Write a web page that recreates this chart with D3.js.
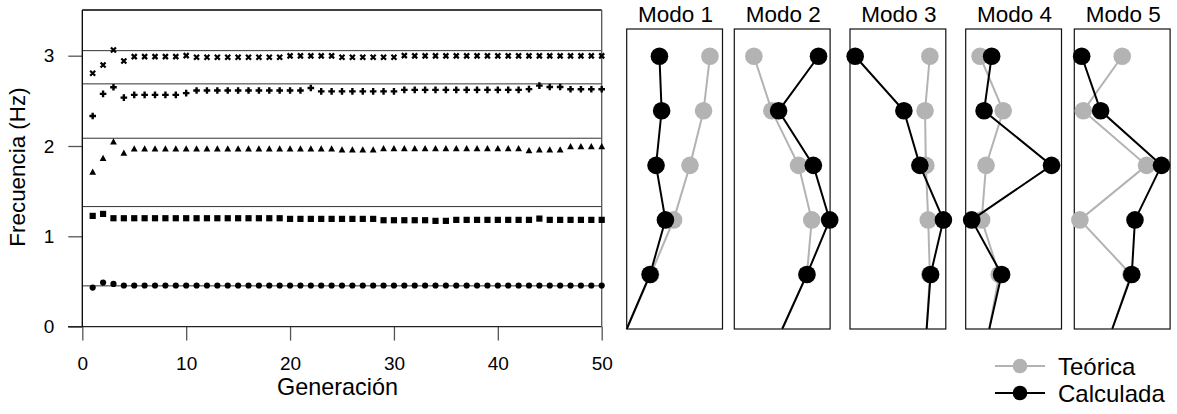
<!DOCTYPE html>
<html><head><meta charset="utf-8">
<script src="https://cdn.jsdelivr.net/npm/d3@7"></script>
<style>
html,body{margin:0;padding:0;background:#fff;}
svg{display:block;font-family:"Liberation Sans",Arial,Helvetica,sans-serif;}
</style></head>
<body><svg id="c" width="1177" height="414"></svg>
<script>
// ---------- DATA ----------
const generations = d3.range(1, 51);
function rep(v, n){ return Array(n).fill(v); }
const freqMode1 = [0.432, 0.487, 0.473, ...rep(0.455, 47)];
const freqMode2 = [1.226, 1.248, ...rep(1.200, 17), ...rep(1.193, 9), ...rep(1.178, 5), 1.171, 1.171, ...rep(1.182, 8), 1.196, ...rep(1.182, 6)];
const freqMode3 = [1.709, 1.861, 2.045, 1.920, ...rep(1.968, 20), ...rep(1.957, 4), ...rep(1.970, 14), 1.948, 1.957, 1.957, 1.957, ...rep(1.993, 4)];
const freqMode4 = [2.333, 2.577, 2.651, 2.536, ...rep(2.566, 5), 2.585, ...rep(2.614, 11), 2.643, ...rep(2.605, 8), ...rep(2.621, 12), 2.630, 2.669, 2.654, 2.654, ...rep(2.628, 4)];
const freqMode5 = [2.806, 2.898, 3.064, 2.942, ...rep(2.990, 5), 3.001, ...rep(2.983, 9), ...rep(2.998, 5), ...rep(2.983, 6), 3.001, ...rep(2.998, 19)];
const theoreticalFreqs = [0.451, 1.329, 2.086, 2.688, 3.056];
const xTicks = [0, 10, 20, 30, 40, 50];
const yTicks = [0, 1, 2, 3];

const modeTitles = ["Modo 1", "Modo 2", "Modo 3", "Modo 4", "Modo 5"];
const levels = [0, 1, 2, 3, 4, 5];
// mode shapes, from ground (level 0 = 0) to level 5
const theoMode1 = [0, 0.60, 1.175, 1.585, 1.925, 2.085];
const calcMode1 = [0, 0.585, 0.97, 0.735, 0.875, 0.82];
const theoMode2 = [0, 0.62, 0.74, 0.41, -0.26, -0.71];
const calcMode2 = [0, 0.62, 1.19, 0.78, -0.09, 0.91];
const theoMode3 = [0, 0.08, 0.04, -0.02, -0.04, 0.08];
const calcMode3 = [0, 0.10, 0.42, -0.17, -0.57, -1.79];
const theoMode4 = [0, 0.25, -0.19, -0.08, 0.35, -0.23];
const calcMode4 = [0, 0.31, -0.44, 1.56, -0.13, 0.06];
const theoMode5 = [0, 0.47, -0.81, 0.86, -0.725, 0.25];
const calcMode5 = [0, 0.49, 0.57, 1.235, -0.29, -0.765];
const modeXDomains = [[0, 2.4], [-1.2, 1.2], [-1.92, 0.48], [-0.59, 1.81], [-0.95, 1.45]];
const legendLabels = ["Teórica", "Calculada"];

// ---------- LAYOUT ----------
const svg = d3.select("#c");
const FONT_TICK = 19;
const GRAY = "#b3b3b3";
const L = {left: 82.3, right: 601.7, top: 10, bottom: 326.6};
const x = d3.scaleLinear().domain([0, 50]).range([L.left, L.right]);
const y = d3.scaleLinear().domain([0, 3]).range([L.bottom, 55.7]);

const g = svg.append("g");
// reference lines (theoretical frequencies)
g.selectAll("line.ref").data(theoreticalFreqs).enter().append("line")
  .attr("x1", L.left).attr("x2", L.right)
  .attr("y1", d => y(d)).attr("y2", d => y(d))
  .attr("stroke", "#333").attr("stroke-width", 1);

// axes
const yAxis = d3.axisLeft(y).tickValues(yTicks).tickSize(14).tickPadding(14).tickFormat(d3.format("d"));
const ya = g.append("g").attr("transform", `translate(${L.left},0)`).call(yAxis);
ya.select(".domain").remove();
ya.selectAll("line").attr("stroke", "#555").attr("stroke-width", 1.3);
ya.selectAll("text").attr("font-size", FONT_TICK).attr("fill", "#000").attr("font-family", "Liberation Sans, Arial, sans-serif");

const xAxis = d3.axisBottom(x).tickValues(xTicks).tickSize(14).tickPadding(16).tickFormat(d3.format("d"));
const xa = g.append("g").attr("transform", `translate(0,${L.bottom})`).call(xAxis);
xa.select(".domain").remove();
xa.selectAll("line").attr("stroke", "#555").attr("stroke-width", 1.3);
xa.selectAll("text").attr("font-size", FONT_TICK).attr("fill", "#000").attr("font-family", "Liberation Sans, Arial, sans-serif");

// frame
g.append("line").attr("x1", 68).attr("x2", L.right).attr("y1", L.bottom).attr("y2", L.bottom).attr("stroke", "#222").attr("stroke-width", 1.3);
g.append("line").attr("x1", L.left).attr("x2", L.left).attr("y1", L.top).attr("y2", L.bottom).attr("stroke", "#000").attr("stroke-width", 1.3);
g.append("line").attr("x1", L.left).attr("x2", L.right).attr("y1", L.top).attr("y2", L.top).attr("stroke", "#000").attr("stroke-width", 1.3);
g.append("line").attr("x1", L.right).attr("x2", L.right).attr("y1", L.top).attr("y2", L.bottom).attr("stroke", "#555").attr("stroke-width", 1.3);

// axis titles
g.append("text").attr("transform", `translate(25,167) rotate(-90)`).attr("text-anchor", "middle")
  .attr("font-size", 22.4).text("Frecuencia (Hz)");
g.append("text").attr("x", 337.5).attr("y", 395).attr("text-anchor", "middle")
  .attr("font-size", 23.4).text("Generación");

// markers
const series = [
  {vals: freqMode1, type: "circle"},
  {vals: freqMode2, type: "square"},
  {vals: freqMode3, type: "triangle"},
  {vals: freqMode4, type: "plus"},
  {vals: freqMode5, type: "times"}
];
series.forEach(s => {
  const pts = g.append("g").selectAll("g").data(s.vals.map((v, i) => [generations[i], v])).enter()
    .append("g").attr("transform", d => `translate(${x(d[0])},${y(d[1])})`);
  if (s.type === "circle") pts.append("circle").attr("r", 3.1).attr("fill", "#000");
  if (s.type === "square") pts.append("rect").attr("x", -3.1).attr("y", -3.1).attr("width", 6.2).attr("height", 6.2).attr("fill", "#000");
  if (s.type === "triangle") pts.append("path").attr("d", "M0,-3.7L3.4,2.5L-3.4,2.5Z").attr("fill", "#000");
  if (s.type === "plus") pts.append("path").attr("d", "M-3.3,0H3.3M0,-3.3V3.3").attr("stroke", "#000").attr("stroke-width", 2.4);
  if (s.type === "times") pts.append("path").attr("d", "M-2.5,-2.5L2.5,2.5M-2.5,2.5L2.5,-2.5").attr("stroke", "#000").attr("stroke-width", 2.2);
});

// ---------- MODE PANELS ----------
const panelLeft = [626.7, 734.3, 850, 965.7, 1074.3];
const panelW = 95.8, panelTop = 29, panelBottom = 329;
const yLev = d3.scaleLinear().domain([0, 5.5]).range([panelBottom, panelTop]);
const theo = [theoMode1, theoMode2, theoMode3, theoMode4, theoMode5];
const calc = [calcMode1, calcMode2, calcMode3, calcMode4, calcMode5];

modeTitles.forEach((t, i) => {
  const px = d3.scaleLinear().domain(modeXDomains[i]).range([panelLeft[i], panelLeft[i] + panelW]);
  const pg = svg.append("g");
  pg.append("rect").attr("x", panelLeft[i]).attr("y", panelTop).attr("width", panelW).attr("height", panelBottom - panelTop)
    .attr("fill", "none").attr("stroke", "#111").attr("stroke-width", 1.2);
  pg.append("text").attr("x", panelLeft[i] + panelW / 2 + 1).attr("y", 22).attr("text-anchor", "middle")
    .attr("font-size", 22.5).text(t);
  const line = d3.line().x(d => px(d[1])).y(d => yLev(d[0]));
  [[theo[i], GRAY], [calc[i], "#000"]].forEach(([vals, col]) => {
    const pts = vals.map((v, k) => [levels[k], v]);
    pg.append("path").attr("d", line(pts)).attr("fill", "none").attr("stroke", col).attr("stroke-width", 2);
    pg.selectAll(null).data(pts.slice(1)).enter().append("circle")
      .attr("cx", d => px(d[1])).attr("cy", d => yLev(d[0])).attr("r", 8.8).attr("fill", col);
  });
});

// ---------- LEGEND ----------
const legColors = [GRAY, "#000"];
legendLabels.forEach((lab, i) => {
  const ly = 366 + i * 27;
  const lg = svg.append("g");
  lg.append("line").attr("x1", 995).attr("x2", 1045).attr("y1", ly).attr("y2", ly).attr("stroke", legColors[i]).attr("stroke-width", 2);
  lg.append("circle").attr("cx", 1020).attr("cy", ly).attr("r", 7.3).attr("fill", legColors[i]);
  lg.append("text").attr("x", 1058).attr("y", ly + 9).attr("font-size", 24).text(lab);
});
</script>
</body></html>
